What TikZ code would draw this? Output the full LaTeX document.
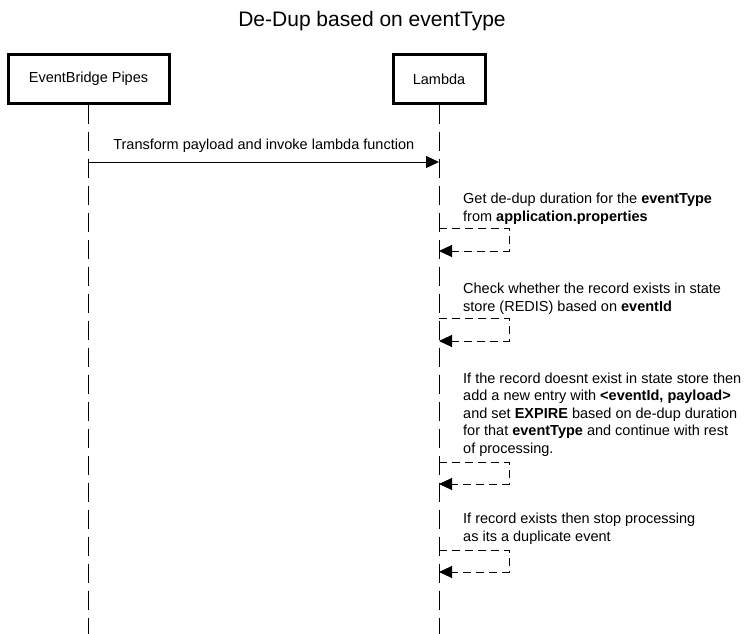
\documentclass[tikz,border=0pt]{standalone}
\usepackage{fontspec}
\setmainfont{Liberation Sans}
\usetikzlibrary{arrows.meta, positioning}
\tikzset{
	actor/.style={draw, line width=3pt, minimum width=#1, minimum height=48pt, inner sep=0pt},
	lifeline/.style={line width=1pt, dash pattern=on 19pt off 8pt},
	msg/.style={line width=1pt, -{Triangle[length=13pt, width=12pt]}},
	selfmsg/.style={line width=1pt, dash pattern=on 8pt off 5pt, -{Triangle[length=13pt, width=12pt]}},
	note/.style={anchor=base west, align=left, inner sep=0pt, font=\fontsize{14.5}{17.5}\selectfont}
}
\begin{document}
\begin{tikzpicture}[x=1pt, y=-1pt]
	\useasboundingbox (0,0) rectangle (752,634);
	\node[anchor=base, font=\fontsize{21}{25}\selectfont] (title) at (372,27) {De-Dup based on eventType};

	\node[actor=161pt, font=\fontsize{14.5}{17.5}\selectfont] (pipes) at (88.5,79) {EventBridge Pipes};
	\node[actor=92pt, font=\fontsize{14.5}{17.5}\selectfont] (lambda) at (439,79) {Lambda};
	\coordinate (pipesend) at (pipes.center |- 0,634);
	\coordinate (lambdaend) at (lambda.center |- 0,634);
	\draw[lifeline] (pipes.south) -- (pipesend);
	\draw[lifeline] (lambda.south) -- (lambdaend);

	\coordinate (invokefrom) at (pipes.center |- 0,162);
	\coordinate (invoketo) at (lambda.center |- 0,162);
	\draw[msg] (invokefrom) -- (invoketo) node[midway, above=6pt, font=\fontsize{14.5}{17.5}\selectfont] (invoke) {Transform payload and invoke lambda function};

	% self calls on the lambda lifeline
	\foreach \name/\top/\bottom in {getdur/228/251, check/318/341, insert/462/484, stop/550/572} {
		\coordinate (\name from) at (lambda.center |- 0,\top);
		\coordinate (\name to) at (lambda.center |- 0,\bottom);
		\draw[selfmsg] (\name from) -- ++(70,0) |- (\name to);
	}
	% base anchor sits on the last line
	\node[note] (getdurtext) at (463,221) {Get de-dup duration for the \textbf{eventType}\\from \textbf{application.properties}};
	\node[note] (checktext) at (463,311) {Check whether the record exists in state\\store (REDIS) based on \textbf{eventId}};
	\node[note] (inserttext) at (463,453) {If the record doesnt exist in state store then\\add a new entry with \textbf{<eventId, payload>}\\and set \textbf{EXPIRE} based on de-dup duration\\for that \textbf{eventType} and continue with rest\\of processing.};
	\node[note] (stoptext) at (463,541) {If record exists then stop processing\\as its a duplicate event};
\end{tikzpicture}
\end{document}
